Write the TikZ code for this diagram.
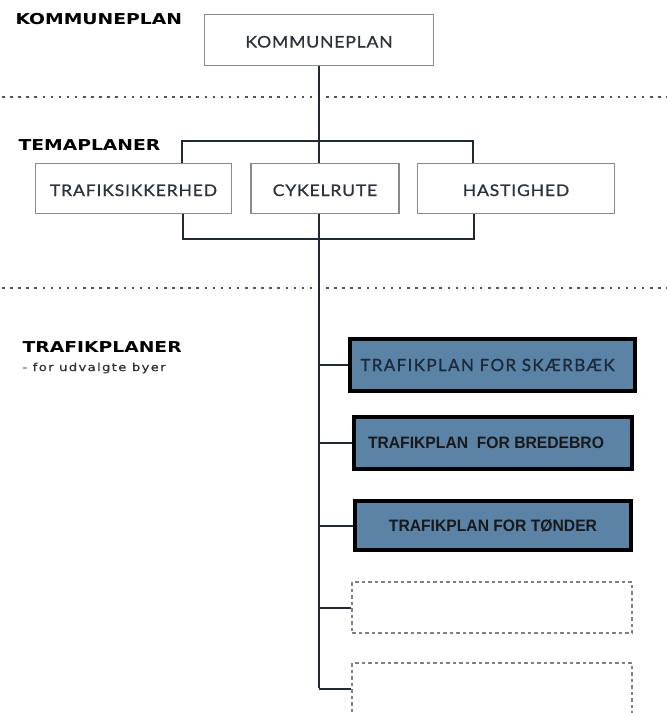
\documentclass[tikz,border=0pt]{standalone}
\usepackage{fontspec}
\setmainfont{Lato}[FakeStretch=1.1,LetterSpace=5,FakeBold=0.8]
\newfontfamily\headfont{DejaVu Sans}[FakeStretch=1.25]
\newfontfamily\subfont{DejaVu Sans}[FakeStretch=1.2,LetterSpace=12,FakeBold=0.5]
\newfontfamily\planfont{Liberation Sans}[FakeStretch=0.95]
\newfontfamily\wideplanfont{Lato}[LetterSpace=8,FakeBold=1]
\definecolor{linecol}{HTML}{1F2A36}
\definecolor{boxgray}{HTML}{8A8A8A}
\definecolor{plancol}{HTML}{5B83A5}
\definecolor{txtgray}{HTML}{2B323A}
\definecolor{navytxt}{HTML}{1C2B3C}
\tikzset{
  heading/.style={anchor=west,font=\headfont\bfseries\fontsize{15}{17}\selectfont},
  subheading/.style={anchor=west,text=txtgray,font=\subfont\fontsize{11}{13}\selectfont},
  levelbox/.style={draw=boxgray,line width=1.5pt,fill=white,text=txtgray,
    font=\fontsize{16}{18}\selectfont,inner sep=0pt,text height=15pt,text depth=0pt},
  planbox/.style={draw=black,line width=4pt,fill=plancol,inner sep=0pt,
    minimum width=282,minimum height=52},
  emptybox/.style={draw=gray,dash pattern=on 3.5pt off 3pt,line width=1.3pt,inner sep=0pt,
    minimum width=280,minimum height=51},
  link/.style={draw=linecol,line width=2pt},
  level/.style={draw=linecol!80,line width=2.5pt,dash pattern=on 2.5pt off 5.6pt}
}
\begin{document}
\begin{tikzpicture}[x=1pt,y=-1pt]
\useasboundingbox (0,0) rectangle (667,713);
% section headings
\node[heading] (hkommune) at (12,19) {KOMMUNEPLAN};
\node[heading] (htema) at (15,145) {TEMAPLANER};
\node[heading] (htrafik) at (19,347) {TRAFIKPLANER};
\node[subheading] (hsub) at (19,368) {- for udvalgte byer};
% separators
\draw[level] (2,97) -- (667,97);
\draw[level] (2,288) -- (667,288);
% kommuneplan
\node[levelbox,minimum width=229,minimum height=51] (kommune) at (319,40) {KOMMUNEPLAN};
% temaplaner
\node[levelbox,minimum width=196,minimum height=50] (sikker) at (133.5,188.5) {TRAFIKSIKKERHED};
\node[levelbox,minimum width=148,minimum height=50] (cykel) at (325,188.5) {CYKELRUTE};
\node[levelbox,minimum width=197,minimum height=50] (hast) at (516,188.5) {HASTIGHED};
% trafikplaner
\node[planbox,minimum width=285] (skaerbaek) at (492.5,365) {\wideplanfont\color{navytxt}\fontsize{17}{19}\selectfont TRAFIKPLAN FOR SKÆRBÆK\hspace*{10pt}};
\node[planbox,minimum width=278] (bredebro) at (493,443) {\planfont\bfseries\color{black!90}\fontsize{16.5}{18}\selectfont TRAFIKPLAN\ \ FOR BREDEBRO\hspace*{14pt}};
\node[planbox,minimum width=276,minimum height=49] (toender) at (493,525.5) {\planfont\bfseries\color{black!90}\fontsize{16.5}{18}\selectfont TRAFIKPLAN FOR TØNDER};
\node[emptybox] (tom1) at (492,607.5) {};
\node[emptybox] (tom2) at (492,688.5) {};
% connectors
\coordinate (tl) at (182,141);
\coordinate (tr) at (473,141);
\coordinate (bl) at (183,239);
\coordinate (br) at (474,239);
\coordinate (trunkend) at (319,688);
\draw[link] (kommune.south) -- (kommune.south |- cykel.north);
\draw[link] (tl |- sikker.north) |- (tr) -- (tr |- hast.north);
\draw[link] (bl |- sikker.south) |- (br) -- (br |- hast.south);
\draw[link] (trunkend |- cykel.south) -- (trunkend);
\foreach \p in {skaerbaek,bredebro,toender,tom1,tom2}
  \draw[link] (\p.west -| trunkend) -- (\p.west);
\end{tikzpicture}
\end{document}
